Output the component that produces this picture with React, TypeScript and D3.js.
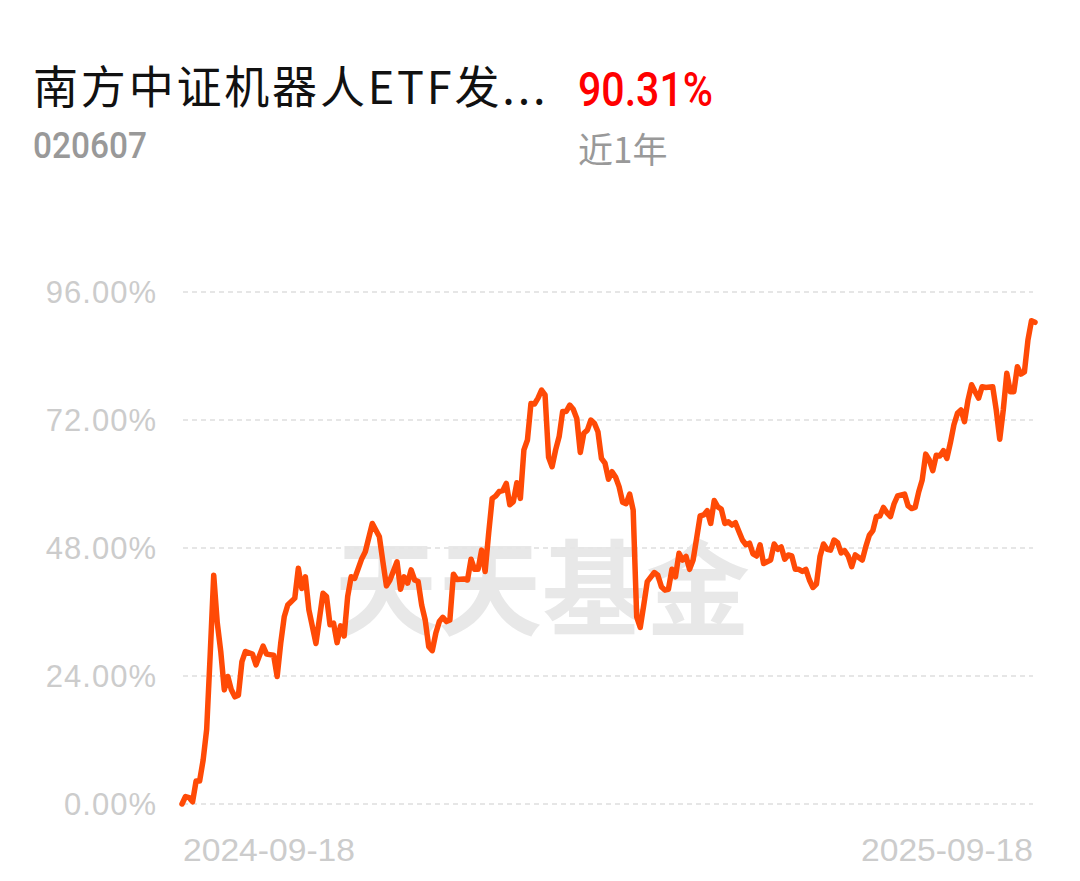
import React from "react";
import * as d3 from "d3";

const title = "南方中证机器人ETF发...";
const fundCode = "020607";
const returnText = "90.31%";
const periodText = "近1年";
const watermark = "天天基金";
const xLabels = ["2024-09-18", "2025-09-18"];
const yTicks = [0, 24, 48, 72, 96];

// trading-day index since 2024-09-18
const days = [
  0, 1, 2, 3, 4, 5, 6, 7, 8, 9, 10, 11, 12, 13, 14, 15, 16, 17, 18, 20, 21, 23, 24, 26, 27, 28, 29, 30, 32, 33, 34, 35, 36, 38, 40,
  41, 42, 43, 44, 45, 46, 47, 48, 49, 51, 52, 54, 56, 57, 58, 59, 61, 62, 63, 64, 65, 66, 67, 68, 69, 70, 71, 72, 73, 74, 75, 76,
  77, 78, 80, 81, 82, 83, 84, 85, 86, 87, 88, 89, 90, 91, 92, 93, 94, 95, 96, 97, 98, 99, 100, 101, 102, 103, 104, 105, 106, 107,
  108, 109, 110, 111, 112, 113, 114, 115, 116, 117, 118, 119, 120, 121, 122, 123, 124, 125, 126, 127, 128, 129, 130, 131, 132,
  134, 135, 136, 137, 138, 139, 140, 141, 142, 143, 144, 145, 146, 147, 148, 149, 150, 151, 152, 153, 154, 155, 156, 157, 158,
  159, 160, 161, 162, 163, 164, 165, 167, 168, 169, 170, 171, 172, 173, 174, 175, 176, 177, 178, 179, 180, 181, 182, 183, 184,
  185, 186, 187, 188, 189, 190, 191, 193, 194, 195, 196, 197, 198, 199, 200, 201, 202, 203, 205, 206, 207, 208, 209, 210, 211,
  212, 213, 214, 215, 216, 217, 218, 219, 220, 221, 222, 223, 224, 225, 226, 227, 228, 230, 231, 232, 233, 234, 235, 236, 237,
  238, 239, 240, 241, 242,
];

// cumulative return, %
const values = [
  0, 1.4, 1.2, 0.4, 4.3, 4.3, 8.25, 14, 28, 42.9, 34, 28.6, 21.4, 23.9, 21.4, 20.1, 20.4, 26.7, 28.6, 28.1, 26.1, 29.6, 28.1, 27.9,
  23.9, 30.1, 35.1, 37.3, 38.6, 44.2, 40.4, 42.6, 36.4, 30.1, 39.5, 38.9, 33.6, 33.9, 30.25, 33.4, 31.5, 38.9, 42.6, 42.3, 46,
  47.3, 52.6, 50.1, 45.4, 40.9, 42, 45.4, 40.25, 42.6, 41.4, 43.9, 42, 41.7, 37.3, 34.5, 29.5, 28.75, 32, 34.2, 35, 34.2, 34.5,
  43.1, 42.1, 42.2, 42, 45.9, 44, 44, 47.6, 43.6, 50.75, 57.3, 57.75, 58.6, 58.75, 60.1, 56.1, 56.7, 60.25, 57.3, 66.4, 68.25,
  75.1, 75, 76.1, 77.6, 76.7, 65, 63.25, 66.4, 68.9, 73.6, 73.6, 74.8, 74, 72.3, 65.9, 69.5, 70.1, 72, 71.4, 69.8, 64.8, 63.9,
  60.9, 62.3, 61.3, 59.5, 56.6, 56.3, 58.1, 55.1, 35.1, 33.1, 37.3, 41.7, 43.4, 42.9, 40.75, 40.1, 40.25, 44, 42.6, 47, 45.75,
  46.4, 44, 45.75, 49.8, 54, 54.2, 55, 52.6, 56.9, 55.7, 55.3, 52.6, 52.9, 52.3, 52.75, 51.1, 49.5, 48.6, 48.9, 46.9, 46.5,
  48.6, 45.1, 45.75, 48.75, 47.75, 48.2, 45.9, 46.7, 46.5, 44, 44, 43.6, 44, 42, 40.6, 41.25, 46.4, 48.75, 47.75, 47.6, 49.5,
  49, 47.1, 47.5, 46.5, 44.5, 46.7, 45.75, 48.25, 50.4, 51.25, 53.9, 54, 55.6, 54.6, 53.9, 56.25, 57.75, 58.1, 55.9, 55.4,
  55.6, 58.5, 60.75, 65.6, 64.5, 62.5, 65.4, 65.25, 66.25, 64.8, 67.75, 71.1, 73.25, 73.9, 71.7, 75.75, 78.6, 77.3, 76.1,
  78.25, 78.1, 78.25, 73.9, 68.4, 73.9, 80.75, 77.3, 77.3, 82, 80.6, 81, 87, 90.6, 90.31,
];

const TOTAL_DAYS = 242;

export default function App() {
  const W = 1080;
  const H = 881;
  const x = d3.scaleLinear().domain([0, TOTAL_DAYS]).range([182, 1035]);
  const y = d3.scaleLinear().domain([0, 96]).range([804, 292]);
  const pts: [number, number][] = days.map((d, i) => [d, values[i]]);
  const line = d3
    .line<[number, number]>()
    .x((p) => x(p[0]))
    .y((p) => y(p[1]))
    .curve(d3.curveLinear);

  const sans = "'Liberation Sans', Arial, sans-serif";
  const cjk = "'Noto Sans CJK SC', 'Noto Sans', sans-serif";

  return (
    <svg
      width={W}
      height={H}
      viewBox={`0 0 ${W} ${H}`}
      style={{ position: "absolute", left: 0, top: 0, background: "#fff" }}
    >
      <rect x={0} y={0} width={W} height={H} fill="#fff" />
      {/* header */}
      <text
        x={33}
        y={104}
        fontFamily={cjk}
        fontSize={45}
        letterSpacing={2.5}
        fill="#111"
        textLength={515}
        lengthAdjust="spacing"
      >
        {title}
      </text>
      <text
        x={578}
        y={106}
        fontFamily="Roboto, sans-serif"
        fontWeight={500}
        fontSize={48}
        fill="#ff0000"
        textLength={135}
        lengthAdjust="spacingAndGlyphs"
      >
        {returnText}
      </text>
      <text
        x={33}
        y={158}
        fontFamily="Roboto, sans-serif"
        fontWeight={500}
        fontSize={37}
        fill="#999"
        textLength={114}
        lengthAdjust="spacingAndGlyphs"
      >
        {fundCode}
      </text>
      <text x={578} y={163} fontFamily={cjk} fontSize={35} fill="#999">
        {periodText}
      </text>

      {/* watermark */}
      <text
        x={542}
        y={628}
        textAnchor="middle"
        fontFamily={cjk}
        fontWeight={700}
        fontSize={104}
        fill="#e8e8e8"
      >
        {watermark}
      </text>

      {/* grid + y labels */}
      {yTicks.map((t) => (
        <g key={t}>
          <line
            x1={183}
            x2={1033}
            y1={y(t)}
            y2={y(t)}
            stroke="#e6e6e6"
            strokeWidth={2}
            strokeDasharray="5,4"
          />
          <text
            x={157}
            y={y(t)}
            dy="0.36em"
            textAnchor="end"
            fontFamily={sans}
            fontSize={31}
            letterSpacing={1}
            fill="#cccccc"
          >
            {`${t.toFixed(2)}%`}
          </text>
        </g>
      ))}

      {/* x labels */}
      <text
        x={183}
        y={861}
        fontFamily={sans}
        fontSize={32}
        fill="#cccccc"
        textLength={172}
        lengthAdjust="spacingAndGlyphs"
      >
        {xLabels[0]}
      </text>
      <text
        x={861}
        y={861}
        fontFamily={sans}
        fontSize={32}
        fill="#cccccc"
        textLength={172}
        lengthAdjust="spacingAndGlyphs"
      >
        {xLabels[1]}
      </text>

      {/* line */}
      <path
        d={line(pts) || ""}
        fill="none"
        stroke="#ff4a06"
        strokeWidth={5.5}
        strokeLinejoin="round"
        strokeLinecap="round"
      />
    </svg>
  );
}
